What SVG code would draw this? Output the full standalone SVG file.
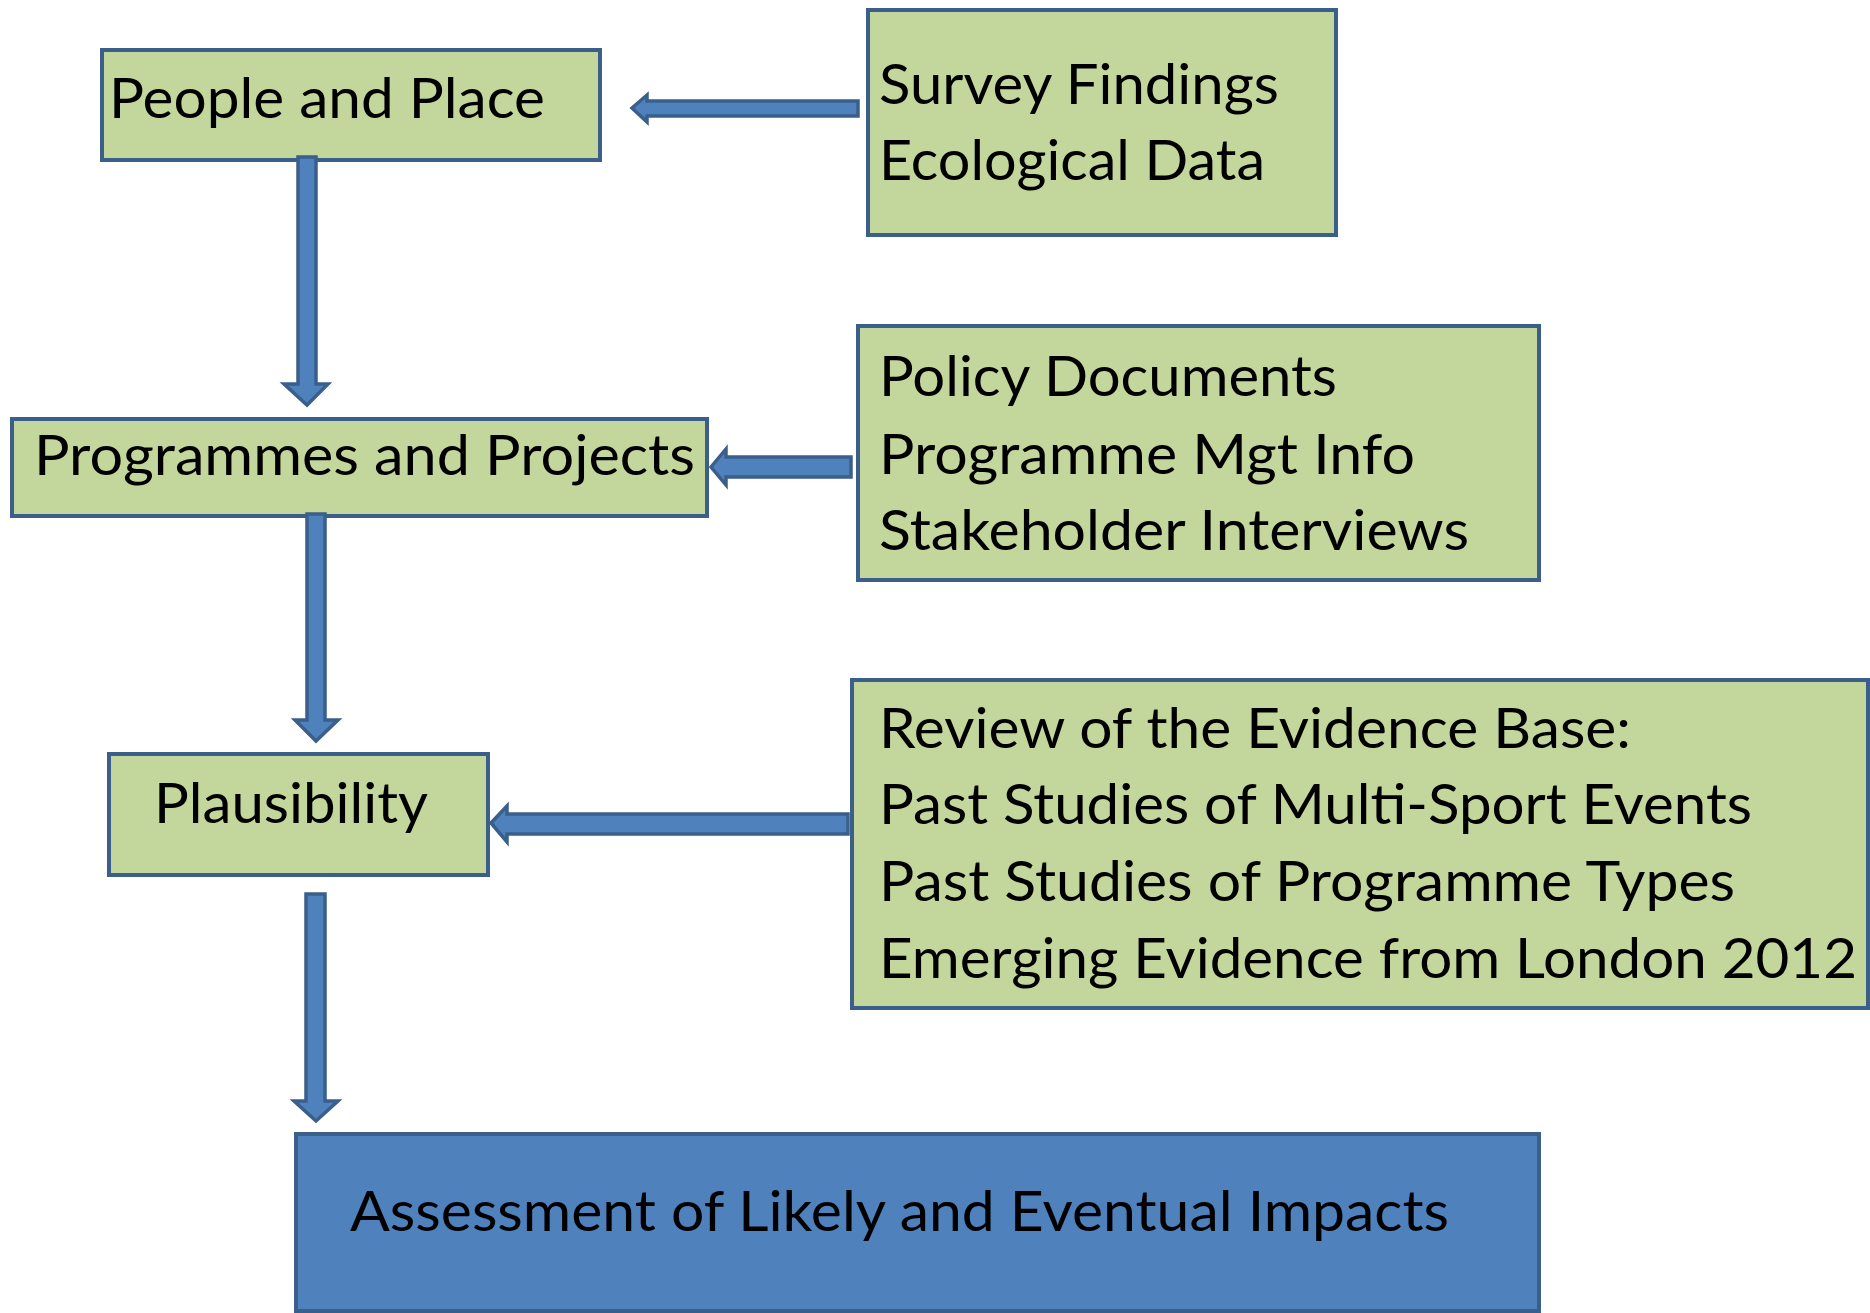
<svg xmlns="http://www.w3.org/2000/svg" width="1870" height="1313" viewBox="0 0 1870 1313">
<style>
.g{fill:#c3d69b;stroke:#3a5f8b;stroke-width:4}
.b{fill:#4f81bd;stroke:#3a5f8b;stroke-width:4}
.a{fill:#4f81bd;stroke:#3a5f8b;stroke-width:3.5;stroke-linejoin:miter}
text{font-family:Lato,"Open Sans","Liberation Sans",sans-serif;font-size:56px;fill:#000}
</style>
<rect width="1870" height="1313" fill="#fff"/>
<g id="people">
<rect class="g" x="102" y="50" width="498" height="110"/>
<text x="109" y="118" textLength="436" lengthAdjust="spacingAndGlyphs">People and Place</text>
</g>
<g id="survey">
<rect class="g" x="868" y="10" width="468" height="225"/>
<text x="879" y="104" textLength="400" lengthAdjust="spacingAndGlyphs">Survey Findings</text>
<text x="879" y="180" textLength="386" lengthAdjust="spacingAndGlyphs">Ecological Data</text>
</g>
<g id="programmes">
<rect class="g" x="12" y="419" width="695" height="97"/>
<text x="34" y="475" textLength="661" lengthAdjust="spacingAndGlyphs">Programmes and Projects</text>
</g>
<g id="policy">
<rect class="g" x="858" y="326" width="681" height="254"/>
<text x="879" y="396" textLength="458" lengthAdjust="spacingAndGlyphs">Policy Documents</text>
<text x="879" y="474" textLength="536" lengthAdjust="spacingAndGlyphs">Programme Mgt Info</text>
<text x="879" y="550" textLength="590" lengthAdjust="spacingAndGlyphs">Stakeholder Interviews</text>
</g>
<g id="plausibility">
<rect class="g" x="109" y="754" width="379" height="121"/>
<text x="154" y="823" textLength="274" lengthAdjust="spacingAndGlyphs">Plausibility</text>
</g>
<g id="review">
<rect class="g" x="852" y="680" width="1016" height="328"/>
<text x="879" y="748" textLength="752" lengthAdjust="spacingAndGlyphs">Review of the Evidence Base:</text>
<text x="879" y="824" textLength="873" lengthAdjust="spacingAndGlyphs">Past Studies of Multi-Sport Events</text>
<text x="879" y="901" textLength="856" lengthAdjust="spacingAndGlyphs">Past Studies of Programme Types</text>
<text x="879" y="978" textLength="978" lengthAdjust="spacingAndGlyphs">Emerging Evidence from London 2012</text>
</g>
<g id="assessment">
<rect class="b" x="296" y="1134" width="1243" height="177"/>
<text x="350" y="1231" textLength="1099" lengthAdjust="spacingAndGlyphs">Assessment of Likely and Eventual Impacts</text>
</g>
<g id="connectors">
<polygon class="a" points="632,108 647,95 647,101 858,101 858,116 647,116 647,122"/>
<polygon class="a" points="711,467 726,449 726,457 851,457 851,477 726,477 726,485"/>
<polygon class="a" points="491,823 507,806 507,814 848,814 848,834 507,834 507,842"/>
<polygon class="a" points="298,157 316,157 316,384 328,384 307,405 284,384 298,384"/>
<polygon class="a" points="307,514 325,514 325,720 338,720 316,741 295,720 307,720"/>
<polygon class="a" points="306,894 325,894 325,1101 338,1101 316,1121 294,1101 306,1101"/>
</g>
</svg>
